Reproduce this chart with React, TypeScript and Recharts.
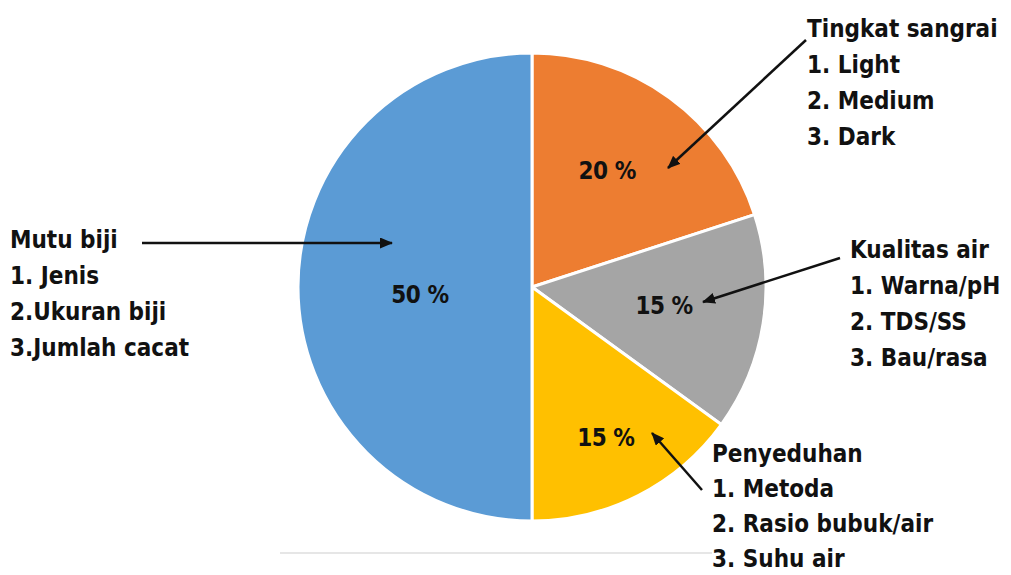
import { PieChart, Pie, Cell } from "recharts";

const categories = ["Tingkat sangrai", "Kualitas air", "Penyeduhan", "Mutu biji"];
const shares = [20, 15, 15, 50];
const percentLabels = ["20 %", "15 %", "15 %", "50 %"];

const COLORS = ["#ED7D31", "#A5A5A5", "#FFC000", "#5B9BD5"];
const FONT = "'DejaVu Sans Condensed', 'DejaVu Sans', sans-serif";

// label placement inside each slice: radius fraction + small angle nudge
const LABEL_POS: Record<string, { r: number; da: number }> = {
    "Tingkat sangrai": { r: 0.59, da: 3 },
    "Kualitas air": { r: 0.57, da: 1 },
    "Penyeduhan": { r: 0.72, da: -1 },
    "Mutu biji": { r: 0.48, da: 4 },
};

const notes = [
    { lines: ["Mutu biji", "1. Jenis", "2.Ukuran biji", "3.Jumlah cacat"], x: 10, y: 248, gap: 36 },
    { lines: ["Tingkat sangrai", "1. Light", "2. Medium", "3. Dark"], x: 807, y: 37, gap: 36 },
    { lines: ["Kualitas air", "1. Warna/pH", "2. TDS/SS", "3. Bau/rasa"], x: 850, y: 258, gap: 36 },
    { lines: ["Penyeduhan", "1. Metoda", "2. Rasio bubuk/air", "3. Suhu air"], x: 712, y: 462, gap: 35 },
];

const arrows = [
    { x1: 142, y1: 243, x2: 392, y2: 243 },
    { x1: 806, y1: 40, x2: 668, y2: 168 },
    { x1: 840, y1: 258, x2: 703, y2: 302 },
    { x1: 702, y1: 490, x2: 652, y2: 433 },
];

const data = categories.map((name, i) => ({ name, value: shares[i], label: percentLabels[i] }));

const RAD = Math.PI / 180;

const renderLabel = (props: any) => {
    const { cx, cy, midAngle, outerRadius, payload } = props;
    const pos = LABEL_POS[payload.name] ?? { r: 0.6, da: 0 };
    const r = outerRadius * pos.r;
    const a = midAngle + pos.da;
    const x = cx + r * Math.cos(-a * RAD);
    const y = cy + r * Math.sin(-a * RAD);
    return (
        <text
            x={x}
            y={y}
            textAnchor="middle"
            dominantBaseline="central"
            fontFamily={FONT}
            fontWeight="bold"
            fontSize={24}
            letterSpacing={-0.5}
            fill="#111"
        >
            {payload.label}
        </text>
    );
};

export default function App() {
    return (
        <div style={{ position: "absolute", left: 0, top: 0, width: 1011, height: 575, background: "#fff" }}>
            <PieChart width={1011} height={575} margin={{ top: 0, right: 0, bottom: 0, left: 0 }}>
                <Pie
                    data={data}
                    dataKey="value"
                    nameKey="name"
                    cx={532}
                    cy={287}
                    outerRadius={234}
                    startAngle={90}
                    endAngle={-270}
                    stroke="#ffffff"
                    strokeWidth={3}
                    label={renderLabel}
                    labelLine={false}
                    isAnimationActive={false}
                >
                    {data.map((d, i) => (
                        <Cell key={d.name} fill={COLORS[i]} />
                    ))}
                </Pie>
            </PieChart>

            <svg
                width={1011}
                height={575}
                style={{ position: "absolute", left: 0, top: 0, pointerEvents: "none" }}
            >
                <defs>
                    <marker id="head" markerWidth="13" markerHeight="11" refX="12" refY="5.5" orient="auto" markerUnits="userSpaceOnUse">
                        <path d="M0,0 L13,5.5 L0,11 Z" fill="#111" />
                    </marker>
                </defs>

                <line x1={280} y1={553} x2={712} y2={553} stroke="#e6e6e6" strokeWidth={2} />

                {arrows.map((a, i) => (
                    <line key={i} {...a} stroke="#111" strokeWidth={2.5} markerEnd="url(#head)" />
                ))}

                {notes.map((n, i) => (
                    <text key={i} fontFamily={FONT} fontWeight="bold" fontSize={24} fill="#111">
                        {n.lines.map((t, j) => (
                            <tspan key={j} x={n.x} y={n.y + j * n.gap}>{t}</tspan>
                        ))}
                    </text>
                ))}
            </svg>
        </div>
    );
}
